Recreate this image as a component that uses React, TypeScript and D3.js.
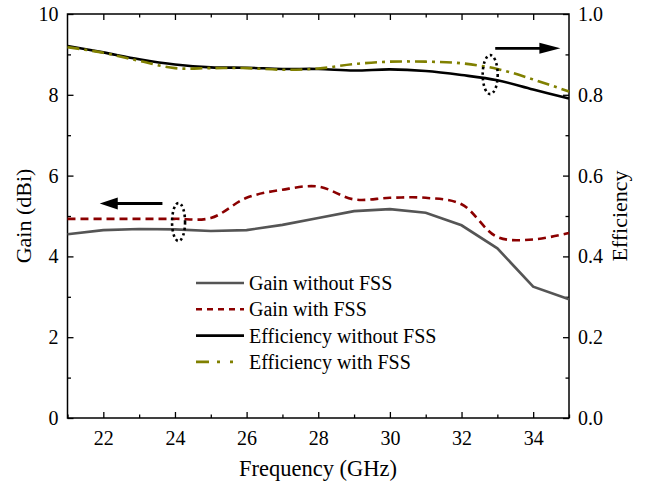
import React, { useEffect, useRef } from 'react';
import * as d3 from 'd3';

const FREQ = [21, 22, 23, 24, 25, 26, 27, 28, 29, 30, 31, 32, 33, 34, 35];
const GAIN_WITHOUT = [4.55, 4.65, 4.68, 4.67, 4.63, 4.65, 4.78, 4.95, 5.12, 5.17, 5.08, 4.77, 4.2, 3.25, 2.94];
const GAIN_WITH = [4.93, 4.93, 4.93, 4.93, 4.95, 5.45, 5.65, 5.73, 5.41, 5.45, 5.45, 5.29, 4.48, 4.42, 4.58];
const EFF_WITHOUT = [0.921, 0.905, 0.888, 0.875, 0.868, 0.867, 0.864, 0.864, 0.86, 0.863, 0.859, 0.849, 0.836, 0.813, 0.791];
const EFF_WITH = [0.918, 0.904, 0.884, 0.866, 0.866, 0.866, 0.862, 0.865, 0.876, 0.882, 0.882, 0.878, 0.864, 0.838, 0.808];
const X_TICKS = [22, 24, 26, 28, 30, 32, 34];
const GAIN_TICKS = [0, 2, 4, 6, 8, 10];
const LEGEND = ['Gain without FSS', 'Gain with FSS', 'Efficiency without FSS', 'Efficiency with FSS'];

const App = () => {
  const ref = useRef<SVGSVGElement>(null);

  useEffect(() => {
    const svg = d3.select(ref.current);
    svg.selectAll('*').remove();
    const left = 67.5, right = 569, top = 14, bottom = 418;
    const font = '"Liberation Serif", "Times New Roman", serif';

    const x = d3.scaleLinear().domain([21, 35]).range([left, right]);
    const yG = d3.scaleLinear().domain([0, 10]).range([bottom, top]);
    const yE = d3.scaleLinear().domain([0, 1]).range([bottom, top]);

    const styleAxis = (g: any) => {
      g.select('.domain').remove();
      g.selectAll('line').attr('stroke', '#000').attr('stroke-width', 1.3);
      g.selectAll('text').attr('font-family', font).attr('font-size', 20).attr('fill', '#000');
    };

    // bottom axis (ticks inward)
    svg.append('g').attr('transform', `translate(0,${bottom})`)
      .call(d3.axisBottom(x).tickValues(d3.range(21, 36, 1)).tickSizeInner(-6).tickSizeOuter(0)
        .tickFormat((d: any) => (X_TICKS.includes(+d) ? String(d) : '')).tickPadding(13))
      .call(styleAxis)
      .call((g: any) => g.selectAll('.tick').filter((d: any) => !X_TICKS.includes(+d)).select('line').attr('y2', -3.5));

    svg.append('g').attr('transform', `translate(0,${top})`)
      .call(d3.axisTop(x).tickValues(d3.range(22, 35, 1)).tickSizeInner(-6).tickSizeOuter(0).tickFormat(() => ''))
      .call(styleAxis)
      .call((g: any) => g.selectAll('.tick').filter((d: any) => !X_TICKS.includes(+d)).select('line').attr('y2', 3.5));

    svg.append('g').attr('transform', `translate(${left},0)`)
      .call(d3.axisLeft(yG).tickValues(d3.range(0, 11, 1)).tickSizeInner(-6).tickSizeOuter(0)
        .tickFormat((d: any) => (GAIN_TICKS.includes(+d) ? String(d) : '')).tickPadding(9))
      .call(styleAxis)
      .call((g: any) => g.selectAll('.tick').filter((d: any) => !GAIN_TICKS.includes(+d)).select('line').attr('x2', 3.5));

    svg.append('g').attr('transform', `translate(${right},0)`)
      .call(d3.axisRight(yE).tickValues(d3.range(0, 11, 1).map(v => v / 10)).tickSizeInner(-6).tickSizeOuter(0)
        .tickFormat((d: any) => (Math.round(+d * 10) % 2 === 0 ? d3.format('.1f')(+d) : '')).tickPadding(9))
      .call(styleAxis)
      .call((g: any) => g.selectAll('.tick').filter((d: any) => Math.round(+d * 10) % 2 === 1).select('line').attr('x2', -3.5));

    // frame
    svg.append('rect').attr('x', left).attr('y', top).attr('width', right - left).attr('height', bottom - top)
      .attr('fill', 'none').attr('stroke', '#000').attr('stroke-width', 1.5);

    const smooth = d3.curveCatmullRom.alpha(0.5);
    const mk = (y: any, curve: any) => d3.line<number>().x((_, i) => x(FREQ[i])).y(d => y(d)).curve(curve);

    const series = [
      { data: GAIN_WITHOUT, line: mk(yG, d3.curveLinear), color: '#555555', dash: null, ldash: null },
      { data: GAIN_WITH, line: mk(yG, smooth), color: '#8b0000', dash: '8,5', ldash: '6,5' },
      { data: EFF_WITHOUT, line: mk(yE, smooth), color: '#000000', dash: null, ldash: null },
      { data: EFF_WITH, line: mk(yE, smooth), color: '#808000', dash: '12,5,3,5', ldash: '13,8,3,10,3,20' },
    ];
    series.forEach(s => {
      svg.append('path').attr('d', s.line(s.data)).attr('fill', 'none')
        .attr('stroke', s.color).attr('stroke-width', 2.6).attr('stroke-dasharray', s.dash);
    });

    // annotations: arrows and dotted ellipses
    const arrow = (x0: number, x1: number, yy: number, head: number, hh: number) => {
      const dir = Math.sign(x1 - x0);
      svg.append('line').attr('x1', x0).attr('y1', yy).attr('x2', x1 - dir * head * 0.8).attr('y2', yy)
        .attr('stroke', '#000').attr('stroke-width', 2.8);
      svg.append('path')
        .attr('d', `M${x1},${yy} L${x1 - dir * head},${yy - hh / 2} L${x1 - dir * head},${yy + hh / 2} Z`)
        .attr('fill', '#000');
    };
    arrow(x(23.65), x(21.9), yG(5.31), 18, 12);
    arrow(x(32.94), x(34.76), yE(0.915), 21, 11);
    svg.append('ellipse').attr('cx', x(24.1)).attr('cy', yG(4.85)).attr('rx', 6.5).attr('ry', 19)
      .attr('fill', 'none').attr('stroke', '#000').attr('stroke-width', 2.6).attr('stroke-dasharray', '2.5,3');
    svg.append('ellipse').attr('cx', x(32.8)).attr('cy', yE(0.85)).attr('rx', 7.5).attr('ry', 19.5)
      .attr('fill', 'none').attr('stroke', '#000').attr('stroke-width', 2.6).attr('stroke-dasharray', '2.5,3');

    // legend
    const lg = svg.append('g').attr('transform', 'translate(196,283)');
    LEGEND.forEach((name, i) => {
      const s = series[i];
      const yy = i * 26.3;
      lg.append('line').attr('x1', 0).attr('x2', 48).attr('y1', yy).attr('y2', yy)
        .attr('stroke', s.color).attr('stroke-width', 2.6).attr('stroke-dasharray', s.ldash);
      lg.append('text').attr('x', 53).attr('y', yy).attr('dy', '0.35em').attr('font-family', font)
        .attr('font-size', 20).attr('fill', '#000').text(name);
    });

    // axis titles
    svg.append('text').attr('x', 318).attr('y', 476).attr('text-anchor', 'middle')
      .attr('font-family', font).attr('font-size', 22.5).text('Frequency (GHz)');
    svg.append('text').attr('transform', `translate(31,${(top + bottom) / 2}) rotate(-90)`).attr('text-anchor', 'middle')
      .attr('font-family', font).attr('font-size', 22).text('Gain (dBi)');
    svg.append('text').attr('transform', `translate(627,${(top + bottom) / 2}) rotate(-90)`).attr('text-anchor', 'middle')
      .attr('font-family', font).attr('font-size', 22).text('Efficiency');
  }, []);

  return (
    <div style={{ position: 'absolute', left: 0, top: 0 }}>
      <svg ref={ref} width={646} height={484} style={{ display: 'block', background: '#fff' }} />
    </div>
  );
};

export default App;
